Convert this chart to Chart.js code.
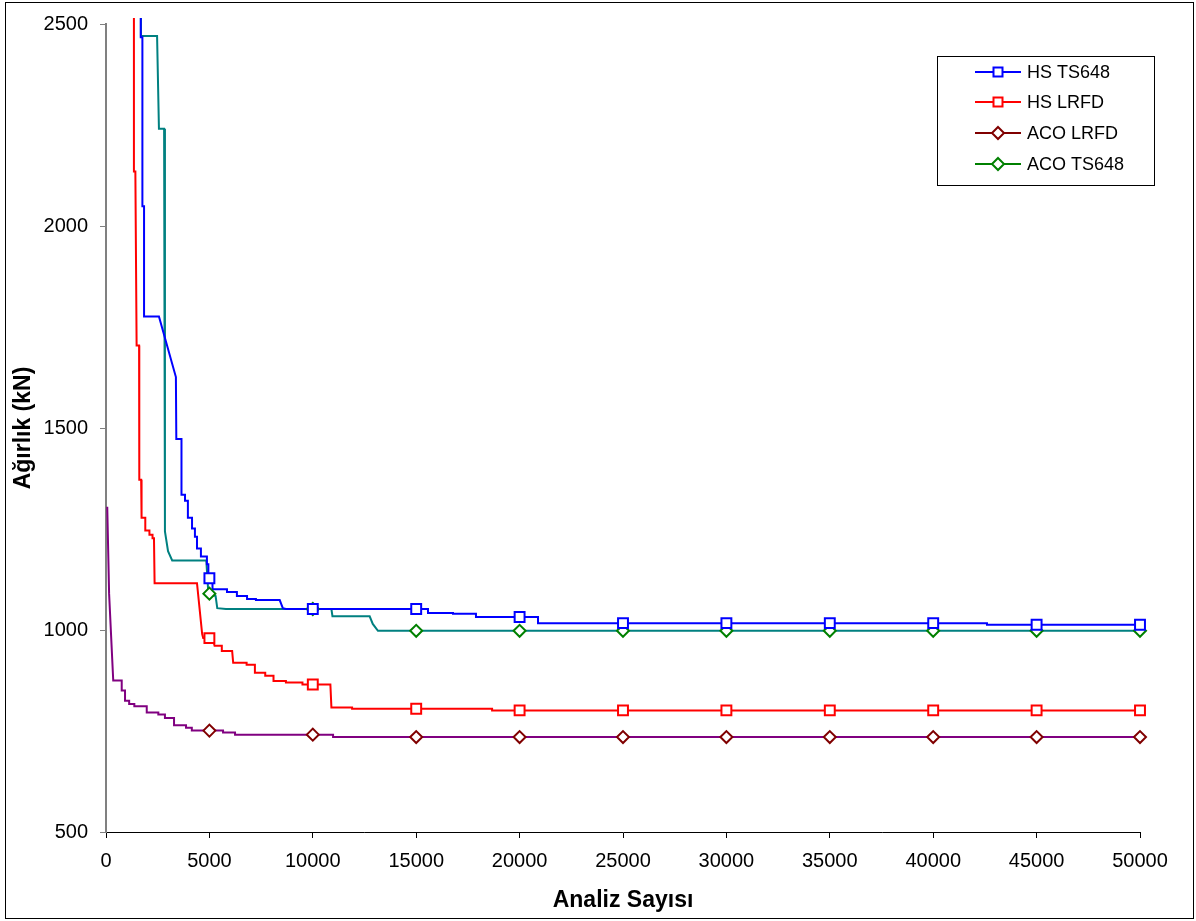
<!DOCTYPE html>
<html>
<head>
<meta charset="utf-8">
<script src="https://cdn.jsdelivr.net/npm/chart.js@4.4.1/dist/chart.umd.min.js"></script>
<style>
  html, body { margin: 0; padding: 0; background: #fff; }
  #stay_canvas { position: relative; width: 1196px; height: 921px; }
</style>
</head>
<body>
<div id="stay_canvas"><canvas id="grafico"></canvas></div>
<script>
// ---- datos ----
var etiquetas = ["HS TS648", "HS LRFD", "ACO LRFD", "ACO TS648"];

var hsTs648X = [1680, 1680, 1760, 1760, 1840, 1840, 2560, 3380, 3400, 3650, 3650, 3820, 3820, 3960, 3960, 4160, 4160, 4300, 4300, 4400, 4400, 4590, 4590, 4880, 4880, 4950, 4950, 5150, 5150, 5850, 5850, 6330, 6330, 6820, 6820, 7250, 7250, 8400, 8550, 8700, 15570, 15570, 16780, 16780, 17890, 17890, 20890, 20890, 42600, 42600, 50000];
var hsTs648Y = [2700, 2467, 2467, 2049, 2049, 1776, 1776, 1626, 1473, 1473, 1335, 1335, 1320, 1320, 1278, 1278, 1251, 1251, 1231, 1231, 1202, 1202, 1182, 1182, 1163, 1163, 1128, 1128, 1101, 1101, 1094, 1094, 1084, 1084, 1077, 1077, 1074, 1074, 1054, 1052, 1052, 1042, 1042, 1040, 1040, 1032, 1032, 1017, 1017, 1013, 1013];

var hsLrfdX = [1350, 1350, 1420, 1480, 1600, 1610, 1700, 1720, 1900, 1900, 2100, 2100, 2250, 2250, 2320, 2350, 4400, 4650, 4700, 5150, 5250, 5600, 5600, 6100, 6150, 6800, 6800, 7200, 7200, 7700, 7700, 8100, 8100, 8700, 8700, 9500, 9500, 10850, 10900, 11900, 11900, 18670, 18670, 50000];
var hsLrfdY = [2700, 2135, 2135, 1704, 1704, 1372, 1372, 1278, 1278, 1246, 1246, 1236, 1236, 1227, 1227, 1116, 1116, 990, 980, 980, 961, 961, 948, 948, 919, 919, 914, 914, 894, 894, 887, 887, 874, 874, 870, 870, 865, 865, 808, 808, 805, 805, 801, 801];

var acoLrfdX = [60, 150, 350, 760, 760, 920, 920, 1120, 1120, 1370, 1370, 1970, 1970, 2530, 2530, 2850, 2850, 3290, 3290, 3870, 3870, 4150, 4150, 5660, 5660, 6240, 6240, 10980, 10980, 50000];
var acoLrfdY = [1305, 1090, 875, 875, 850, 850, 825, 825, 817, 817, 811, 811, 796, 796, 791, 791, 782, 782, 764, 764, 758, 758, 751, 751, 746, 746, 741, 741, 735, 735];

var acoTs648X = [1690, 1690, 2470, 2560, 2810, 2850, 3000, 3200, 4850, 4950, 5300, 5380, 5800, 10900, 10950, 12750, 12900, 13150, 50000];
var acoTs648Y = [2700, 2470, 2470, 2241, 2241, 1244, 1195, 1172, 1172, 1090, 1084, 1054, 1052, 1052, 1034, 1034, 1015, 998, 998];

// marcadores cada 5000 analisis
var marcaX = [5000, 10000, 15000, 20000, 25000, 30000, 35000, 40000, 45000, 50000];
var hsTs648Marca = [1128, 1052, 1052, 1032, 1017, 1017, 1017, 1017, 1013, 1013];
var hsLrfdMarca = [980, 865, 805, 801, 801, 801, 801, 801, 801, 801];
var acoLrfdMarca = [751, 741, 735, 735, 735, 735, 735, 735, 735, 735];
var acoTs648Marca = [1090, 1052, 998, 998, 998, 998, 998, 998, 998, 998];

var ejeYTicks = [500, 1000, 1500, 2000, 2500];
var ejeXTicks = [0, 5000, 10000, 15000, 20000, 25000, 30000, 35000, 40000, 45000, 50000];

// ---- colores ----
var colLinea = ["#0000ff", "#ff0000", "#800080", "#008080"];
var colMarca = ["#0000ff", "#ff0000", "#800000", "#008000"];
var estilos = ["rect", "rect", "rectRot", "rectRot"];
var radios = [7, 7, 6, 6];

function puntos(xs, ys){
    var r = [];
    for (var i = 0; i < xs.length; i++) r.push({x: xs[i], y: ys[i]});
    return r;
}

var lineas = [[hsTs648X, hsTs648Y], [hsLrfdX, hsLrfdY], [acoLrfdX, acoLrfdY], [acoTs648X, acoTs648Y]];
var marcas = [hsTs648Marca, hsLrfdMarca, acoLrfdMarca, acoTs648Marca];
var ordenLinea = [1, 2, 3, 4];

var datasets = [];
for (var i = 0; i < 4; i++) {
    datasets.push({
        label: etiquetas[i],
        data: puntos(lineas[i][0], lineas[i][1]),
        borderColor: colLinea[i],
        borderWidth: 2,
        pointRadius: 0,
        tension: 0,
        fill: false,
        order: ordenLinea[i],
        clip: {left: 1, top: 6, right: 1, bottom: 1}
    });
}
for (var j = 0; j < 4; j++) {
    datasets.push({
        label: etiquetas[j] + " marca",
        data: puntos(marcaX, marcas[j]),
        showLine: false,
        pointStyle: estilos[j],
        pointRadius: radios[j],
        pointBackgroundColor: "#ffffff",
        pointBorderColor: colMarca[j],
        pointBorderWidth: 2,
        order: 0,
        clip: false
    });
}

// leyenda propia: linea con marcador en el centro
var leyenda = {
    id: 'leyenda',
    afterDraw: function(chart){
        var ctx = chart.ctx;
        ctx.save();
        ctx.strokeStyle = "#000";
        ctx.lineWidth = 1;
        ctx.strokeRect(937.5, 56.5, 217, 129);
        var filas = [72, 102, 133, 164];
        ctx.font = "18px 'Liberation Sans', Arial, sans-serif";
        ctx.textBaseline = "middle";
        ctx.textAlign = "left";
        for (var k = 0; k < 4; k++) {
            var y = filas[k];
            ctx.strokeStyle = colMarca[k];
            ctx.lineWidth = 2;
            ctx.beginPath();
            ctx.moveTo(975, y);
            ctx.lineTo(1021, y);
            ctx.stroke();
            ctx.fillStyle = "#fff";
            ctx.beginPath();
            if (estilos[k] === "rect") {
                ctx.rect(993.5, y - 4.5, 9, 9);
            } else {
                ctx.moveTo(998, y - 6);
                ctx.lineTo(1004, y);
                ctx.lineTo(998, y + 6);
                ctx.lineTo(992, y);
                ctx.closePath();
            }
            ctx.fill();
            ctx.stroke();
            ctx.fillStyle = "#000";
            ctx.fillText(etiquetas[k], 1027, y + 1);
        }
        // marco exterior
        ctx.strokeStyle = "#000";
        ctx.lineWidth = 1;
        ctx.strokeRect(5.5, 2.5, 1188, 916);
        ctx.restore();
    }
};

var fondo = {
    id: 'fondo',
    beforeDraw: function(chart){
        var ctx = chart.ctx;
        ctx.save();
        ctx.fillStyle = "#fff";
        ctx.fillRect(0, 0, chart.width, chart.height);
        ctx.restore();
    }
};

var fuenteTick = {family: "'Liberation Sans', Arial, sans-serif", size: 20};
var fuenteTitulo = {family: "'Liberation Sans', Arial, sans-serif", size: 23, weight: 'bold'};

var ctx = document.getElementById('grafico').getContext('2d');
var chart = new Chart(ctx, {
    type: 'line',
    data: {datasets: datasets},
    options: {
        responsive: true,
        maintainAspectRatio: false,
        animation: false,
        layout: {padding: {left: 0, top: 20, right: 56, bottom: 0}},
        plugins: {
            legend: {display: false},
            tooltip: {enabled: false},
            title: {display: false}
        },
        scales: {
            x: {
                type: 'linear',
                min: 0,
                max: 50000,
                afterBuildTicks: function(axis){
                    axis.ticks = ejeXTicks.map(function(v){ return {value: v}; });
                },
                afterFit: function(axis){ axis.height = 89; },
                ticks: {
                    color: "#000",
                    font: fuenteTick,
                    padding: 11,
                    maxRotation: 0,
                    autoSkip: false,
                    callback: function(v){ return String(v); }
                },
                grid: {display: true, drawOnChartArea: false, drawTicks: true, tickLength: 6, tickColor: "#000"},
                border: {display: true, color: "#000", width: 1},
                title: {display: true, text: "Analiz Sayısı", color: "#000", font: fuenteTitulo, padding: {top: 0, bottom: 7}}
            },
            y: {
                type: 'linear',
                min: 500,
                max: 2500,
                afterBuildTicks: function(axis){
                    axis.ticks = ejeYTicks.map(function(v){ return {value: v}; });
                },
                afterFit: function(axis){ axis.width = 106; },
                ticks: {
                    color: "#000",
                    font: fuenteTick,
                    padding: 12,
                    callback: function(v){ return String(v); }
                },
                grid: {display: true, drawOnChartArea: false, drawTicks: true, tickLength: 6, tickColor: "#808080"},
                border: {display: true, color: "#808080", width: 2},
                title: {display: true, text: "Ağırlık (kN)", color: "#000", font: fuenteTitulo, padding: {top: 10, bottom: 0}}
            }
        }
    },
    plugins: [fondo, leyenda]
});
</script>
</body>
</html>
